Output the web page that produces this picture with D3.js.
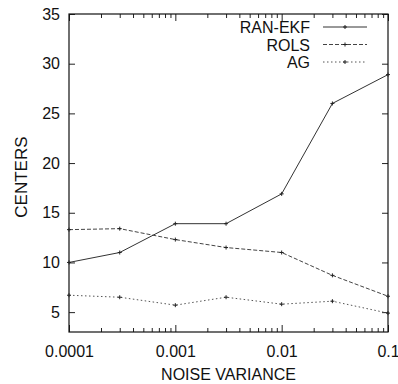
<!DOCTYPE html>
<html>
<head>
<meta charset="utf-8">
<script src="https://cdn.jsdelivr.net/npm/d3@7"></script>
<style>
  body { margin: 0; background: #fff; }
  text { font-family: "Liberation Sans", Arial, Helvetica, sans-serif; fill: #111; }
</style>
</head>
<body>
<div class="chart"></div>
<script>
// noise levels on the x axis (log scale)
var noiseLevels = [0.0001, 0.0003, 0.001, 0.003, 0.01, 0.03, 0.1];

// number of centers for each method
var ranEkf = [10, 11, 13.9, 13.9, 16.9, 26, 28.9];
var rols = [13.3, 13.4, 12.3, 11.5, 11, 8.7, 6.6];
var ag = [6.7, 6.5, 5.7, 6.5, 5.8, 6.1, 4.9];

var seriesNames = ["RAN-EKF", "ROLS", "AG"];
var xTickValues = [0.0001, 0.001, 0.01, 0.1];
var xTickLabels = ["0.0001", "0.001", "0.01", "0.1"];
var yTickValues = [5, 10, 15, 20, 25, 30, 35];

var svgWidth = 398;
var svgHeight = 384;

var margin = { top: 14, right: 10, bottom: 52, left: 69 };

var width = svgWidth - margin.left - margin.right;
var height = svgHeight - margin.top - margin.bottom;

var svg = d3.select(".chart")
  .append("svg")
  .attr("width", svgWidth)
  .attr("height", svgHeight)
  .append("g")
  .attr("transform", `translate(${margin.left}, ${margin.top})`);

var xScale = d3.scaleLog()
  .domain([0.0001, 0.1])
  .range([0, width]);

var yScale = d3.scaleLinear()
  .domain([3, 35])
  .range([height, 0]);

// minor log ticks
var minorTicks = [];
[0.0001, 0.001, 0.01].forEach(function(dec) {
  for (var k = 2; k <= 9; k++) minorTicks.push(dec * k);
});

var tickColor = "#222";

// bottom and top axes
var bottomAxis = d3.axisBottom(xScale)
  .tickValues(xTickValues)
  .tickFormat((d, i) => xTickLabels[i])
  .tickSize(-7)
  .tickPadding(14);

var xAxis = svg.append("g")
  .attr("transform", `translate(0, ${height})`)
  .call(bottomAxis);

svg.append("g")
  .attr("transform", `translate(0, ${height})`)
  .call(d3.axisBottom(xScale).tickValues(minorTicks).tickSize(-4).tickFormat(""));

svg.append("g")
  .call(d3.axisTop(xScale).tickValues(xTickValues).tickSize(-7).tickFormat(""));

svg.append("g")
  .call(d3.axisTop(xScale).tickValues(minorTicks).tickSize(-4).tickFormat(""));

// left and right axes
var leftAxis = d3.axisLeft(yScale)
  .tickValues(yTickValues)
  .tickSize(-6)
  .tickPadding(9);

var yAxis = svg.append("g").call(leftAxis);

svg.append("g")
  .attr("transform", `translate(${width}, 0)`)
  .call(d3.axisRight(yScale).tickValues(yTickValues).tickSize(-6).tickFormat(""));

svg.selectAll(".domain").remove();
svg.selectAll(".tick line").attr("stroke", tickColor).attr("stroke-width", 1);
svg.selectAll(".tick text")
  .style("font-size", "16px")
  .attr("fill", "#111");

// frame
svg.append("rect")
  .attr("x", 0)
  .attr("y", 0)
  .attr("width", width)
  .attr("height", height)
  .attr("fill", "none")
  .attr("stroke", "#111")
  .attr("stroke-width", 1.2);

// lines
var seriesData = [ranEkf, rols, ag];
var dashes = [null, "4,2", "1.5,2.5"];
var strokes = ["#333", "#444", "#555"];

var line = d3.line()
  .x((d, i) => xScale(noiseLevels[i]))
  .y(d => yScale(d));

seriesData.forEach(function(vals, s) {
  svg.append("path")
    .datum(vals)
    .attr("d", line)
    .attr("fill", "none")
    .attr("stroke", strokes[s])
    .attr("stroke-width", 1)
    .attr("stroke-dasharray", dashes[s]);

  svg.selectAll(".pt" + s)
    .data(vals)
    .enter()
    .append("path")
    .attr("class", "pt" + s)
    .attr("transform", (d, i) => `translate(${xScale(noiseLevels[i])}, ${yScale(d)})`)
    .attr("d", "M-2,0H2M0,-2V2")
    .attr("stroke", "#222")
    .attr("stroke-width", 1);
});

// legend
var legend = svg.append("g")
  .attr("transform", "translate(241, 13)");

seriesNames.forEach(function(name, s) {
  var row = legend.append("g")
    .attr("transform", `translate(0, ${s * 17.5})`);
  row.append("text")
    .attr("x", 0)
    .attr("y", 6)
    .attr("text-anchor", "end")
    .style("font-size", "16px")
    .text(name);
  row.append("line")
    .attr("x1", 13)
    .attr("x2", 57)
    .attr("y1", 0)
    .attr("y2", 0)
    .attr("stroke", strokes[s])
    .attr("stroke-width", 1)
    .attr("stroke-dasharray", dashes[s]);
  row.append("path")
    .attr("transform", "translate(35, 0)")
    .attr("d", "M-2,0H2M0,-2V2")
    .attr("stroke", "#222");
});

// axis labels
svg.append("text")
  .attr("x", width / 2)
  .attr("y", height + 48)
  .attr("text-anchor", "middle")
  .style("font-size", "16px")
  .text("NOISE VARIANCE");

svg.append("text")
  .attr("transform", "rotate(-90)")
  .attr("x", -(yScale(20) + 14))
  .attr("y", -margin.left + 27)
  .attr("text-anchor", "middle")
  .style("font-size", "17px")
  .text("CENTERS");
</script>
</body>
</html>
